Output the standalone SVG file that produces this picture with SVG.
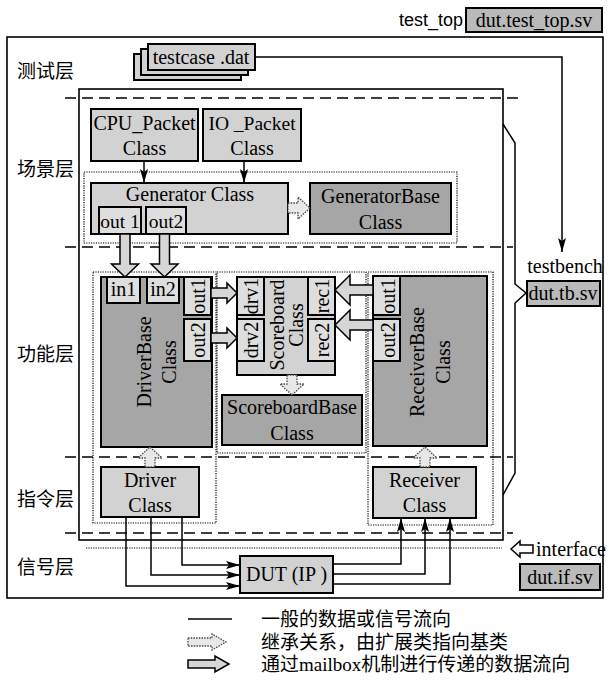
<svg xmlns="http://www.w3.org/2000/svg" width="610" height="682" viewBox="0 0 610 682">
<style>
 text { font-family: "Liberation Serif", "Noto Sans CJK SC", serif; font-size: 20px; fill: #000; }
 .cjk { font-family: "Liberation Serif", "Noto Sans CJK SC", sans-serif; font-size: 19px; }
 .sans { font-family: "Liberation Sans", sans-serif; font-size: 18px; }
 .c { text-anchor: middle; }
 .box { stroke: #000; stroke-width: 2; }
 .lt { fill: #d2d2d2; }
 .dk { fill: #a6a6a6; }
 .pt { fill: #dedede; }
 .file { fill: #bababa; }
 .frame { fill: none; stroke: #000; stroke-width: 1.6; }
 .dash { stroke: #000; stroke-width: 1.6; stroke-dasharray: 11 6; fill: none; }
 .dot { stroke: #000; stroke-width: 1.2; stroke-dasharray: 1.2 1.2; fill: none; }
 .line { stroke: #000; stroke-width: 1.5; fill: none; }
 .mb { fill: #d6d6d6; stroke: #000; stroke-width: 1.5; }
 .inh { fill: #e8e8e8; stroke: #444; stroke-width: 1.3; stroke-dasharray: 1.5 1.2; }
</style>
<defs>
 <marker id="ah" viewBox="0 0 14 8" refX="14" refY="4" markerWidth="14" markerHeight="8" markerUnits="userSpaceOnUse" orient="auto">
  <path d="M0,0 L14,4 L0,8 L3,4 z" fill="#000"/>
 </marker>
</defs>

<!-- frames and layers -->
<g id="frames">
 <rect class="frame" x="7" y="37" width="596" height="561"/>
 <rect class="frame" x="79" y="89" width="424" height="451" stroke-width="2"/>
 <line class="dash" x1="65" y1="98" x2="518" y2="98"/>
 <line class="dash" x1="65" y1="247" x2="513" y2="247"/>
 <line class="dash" x1="65" y1="457" x2="513" y2="457"/>
 <line class="dash" x1="65" y1="533" x2="513" y2="533"/>
 <line class="dot" x1="86" y1="548" x2="502" y2="548"/>
 <rect class="dot" x="84" y="172" width="373" height="71"/>
 <rect class="dot" x="93" y="272" width="123" height="251"/>
 <rect class="dot" x="217" y="272" width="149" height="181"/>
 <rect class="dot" x="368" y="272" width="125" height="253"/>
 <path class="line" d="M503,124 L515,143 L515,284 L526,293 L515,303 L515,473 L503,495" stroke-width="1.8"/>
</g>

<g id="layer-labels">
 <text class="cjk" x="17" y="78">测试层</text>
 <text class="cjk" x="17" y="176">场景层</text>
 <text class="cjk" x="17" y="361">功能层</text>
 <text class="cjk" x="17" y="506">指令层</text>
 <text class="cjk" x="17" y="574">信号层</text>
</g>

<g id="test_top">
 <text class="sans" x="399" y="26">test_top</text>
 <rect class="box file" x="466" y="8" width="136" height="24"/>
 <text class="c" x="534" y="27">dut.test_top.sv</text>
</g>

<g id="testcase">
 <rect class="box lt" x="134" y="54" width="107" height="26"/>
 <rect class="box lt" x="141" y="49" width="107" height="26"/>
 <rect class="box lt" x="148" y="44" width="107" height="26"/>
 <text class="c" x="201" y="64">testcase .dat</text>
</g>

<g id="testbench">
 <text class="c" x="565" y="273">testbench</text>
 <rect class="box file" x="527" y="281" width="73" height="25"/>
 <text class="c" x="563" y="300">dut.tb.sv</text>
</g>

<g id="interface">
 <path d="M511,549 L520,541 L520,545 L533,545 L533,553 L520,553 L520,557 z" fill="#fff" stroke="#000" stroke-width="1.5"/>
 <text x="606" y="556" text-anchor="end">interface</text>
 <rect class="box file" x="520" y="564" width="80" height="26"/>
 <text class="c" x="560" y="584">dut.if.sv</text>
</g>

<g id="cpu-packet">
 <rect class="box lt" x="91" y="109" width="107" height="52"/>
 <text class="c" x="144.5" y="130">CPU_Packet</text>
 <text class="c" x="144.5" y="155">Class</text>
</g>
<g id="io-packet">
 <rect class="box lt" x="203" y="109" width="98" height="52"/>
 <text class="c" x="252" y="130" style="font-size:19.5px">IO _Packet</text>
 <text class="c" x="252" y="155">Class</text>
</g>

<g id="generator">
 <rect class="box lt" x="91" y="183" width="197" height="51"/>
 <text class="c" x="190" y="201">Generator Class</text>
 <rect class="box pt" x="99" y="207" width="42" height="27"/>
 <text class="c" x="120" y="228" style="font-size:19.5px">out 1</text>
 <rect class="box pt" x="146" y="207" width="40" height="27"/>
 <text class="c" x="166" y="228" style="font-size:19.5px">out2</text>
</g>

<g id="generator-base">
 <rect class="box dk" x="310" y="183" width="141" height="51"/>
 <text class="c" x="380.5" y="203">GeneratorBase</text>
 <text class="c" x="380.5" y="229">Class</text>
</g>

<g id="driver-base">
 <rect class="box dk" x="101" y="277" width="111" height="170"/>
 <rect class="box pt" x="107" y="277" width="33" height="26"/>
 <text class="c" x="123.5" y="296">in1</text>
 <rect class="box pt" x="147" y="277" width="32" height="26"/>
 <text class="c" x="163" y="296">in2</text>
 <rect class="box pt" x="184" y="277" width="27" height="38"/>
 <text class="c" transform="translate(205,296) rotate(-90)">out1</text>
 <rect class="box pt" x="184" y="319" width="27" height="42"/>
 <text class="c" transform="translate(205,340) rotate(-90)">out2</text>
 <text class="c" transform="translate(151,362) rotate(-90)">DriverBase</text>
 <text class="c" transform="translate(176,362) rotate(-90)">Class</text>
</g>

<g id="scoreboard">
 <rect class="box lt" x="237" y="277" width="98" height="98"/>
 <rect class="box pt" x="237" y="277" width="27" height="38"/>
 <text class="c" transform="translate(258,296) rotate(-90)">drv1</text>
 <rect class="box pt" x="237" y="319" width="27" height="42"/>
 <text class="c" transform="translate(258,340) rotate(-90)">drv2</text>
 <rect class="box pt" x="308" y="277" width="27" height="38"/>
 <text class="c" transform="translate(329,296) rotate(-90)">rec1</text>
 <rect class="box pt" x="308" y="319" width="27" height="42"/>
 <text class="c" transform="translate(329,340) rotate(-90)">rec2</text>
 <text class="c" transform="translate(284,325) rotate(-90)">Scoreboard</text>
 <text class="c" transform="translate(303,325) rotate(-90)">Class</text>
</g>

<g id="scoreboard-base">
 <rect class="box dk" x="222" y="395" width="140" height="50"/>
 <text class="c" x="292" y="414">ScoreboardBase</text>
 <text class="c" x="292" y="440">Class</text>
</g>

<g id="receiver-base">
 <rect class="box dk" x="373" y="276" width="114" height="170"/>
 <rect class="box pt" x="373" y="276" width="27" height="39"/>
 <text class="c" transform="translate(395,296) rotate(-90)">out1</text>
 <rect class="box pt" x="373" y="319" width="27" height="42"/>
 <text class="c" transform="translate(395,340) rotate(-90)">out2</text>
 <text class="c" transform="translate(424,362) rotate(-90)">ReceiverBase</text>
 <text class="c" transform="translate(450,362) rotate(-90)">Class</text>
</g>

<g id="driver">
 <rect class="box lt" x="101" y="467" width="98" height="50"/>
 <text class="c" x="150" y="487">Driver</text>
 <text class="c" x="150" y="512">Class</text>
</g>

<g id="receiver">
 <rect class="box lt" x="373" y="467" width="103" height="51"/>
 <text class="c" x="424.5" y="487">Receiver</text>
 <text class="c" x="424.5" y="512">Class</text>
</g>

<g id="dut">
 <rect class="box lt" x="240" y="556" width="93" height="37"/>
 <text class="c" x="286.5" y="581">DUT (IP )</text>
</g>

<g id="connectors">
 <path class="line" d="M255,57 L562,57 L562,252" marker-end="url(#ah)"/>
 <line class="line" x1="144" y1="161" x2="144" y2="183" marker-end="url(#ah)"/>
 <line class="line" x1="244" y1="161" x2="244" y2="183" marker-end="url(#ah)"/>
 <path class="line" d="M182,517 L182,565 L240,565" marker-end="url(#ah)"/>
 <path class="line" d="M151,517 L151,575 L240,575" marker-end="url(#ah)"/>
 <path class="line" d="M126,517 L126,586 L240,586" marker-end="url(#ah)"/>
 <path class="line" d="M333,564 L401,564 L401,518" marker-end="url(#ah)"/>
 <path class="line" d="M333,574 L425,574 L425,518" marker-end="url(#ah)"/>
 <path class="line" d="M333,584 L450,584 L450,518" marker-end="url(#ah)"/>
 <polygon class="mb" points="120,234 130,234 130,264 138.5,264 125,277 111.5,264 120,264"/>
 <polygon class="mb" points="159.5,234 169.5,234 169.5,264 178,264 164.5,277 151,264 159.5,264"/>
 <polygon class="mb" points="211,288 227,288 227,283 237,293 227,303 227,298 211,298"/>
 <polygon class="mb" points="211,333 227,333 227,328 237,338 227,348 227,343 211,343"/>
 <polygon class="mb" points="373,285 350,285 350,275 335,290 350,305 350,295 373,295"/>
 <polygon class="mb" points="373,320 350,320 350,310 335,325 350,340 350,330 373,330"/>
 <polygon class="inh" points="288,203 298,203 298,197 310,208 298,219 298,213 288,213"/>
 <polygon class="inh" points="287,375 297,375 297,384 304,384 292,395 280,384 287,384"/>
 <polygon class="inh" points="145,467 155,467 155,458 162,458 150,447 138,458 145,458"/>
 <polygon class="inh" points="420,467 430,467 430,458 437,458 425,447 413,458 420,458"/>
</g>

<g id="legend">
 <line class="line" x1="188" y1="619" x2="232" y2="619"/>
 <polygon class="inh" points="188,638 212,638 212,634 226,642 212,650 212,646 188,646"/>
 <polygon class="mb" points="188,660 215,660 215,656 229,664 215,672 215,668 188,668"/>
 <text class="cjk" x="261" y="626">一般的数据或信号流向</text>
 <text class="cjk" x="261" y="649">继承关系，由扩展类指向基类</text>
 <text class="cjk" x="261" y="671">通过mailbox机制进行传递的数据流向</text>
</g>
</svg>
